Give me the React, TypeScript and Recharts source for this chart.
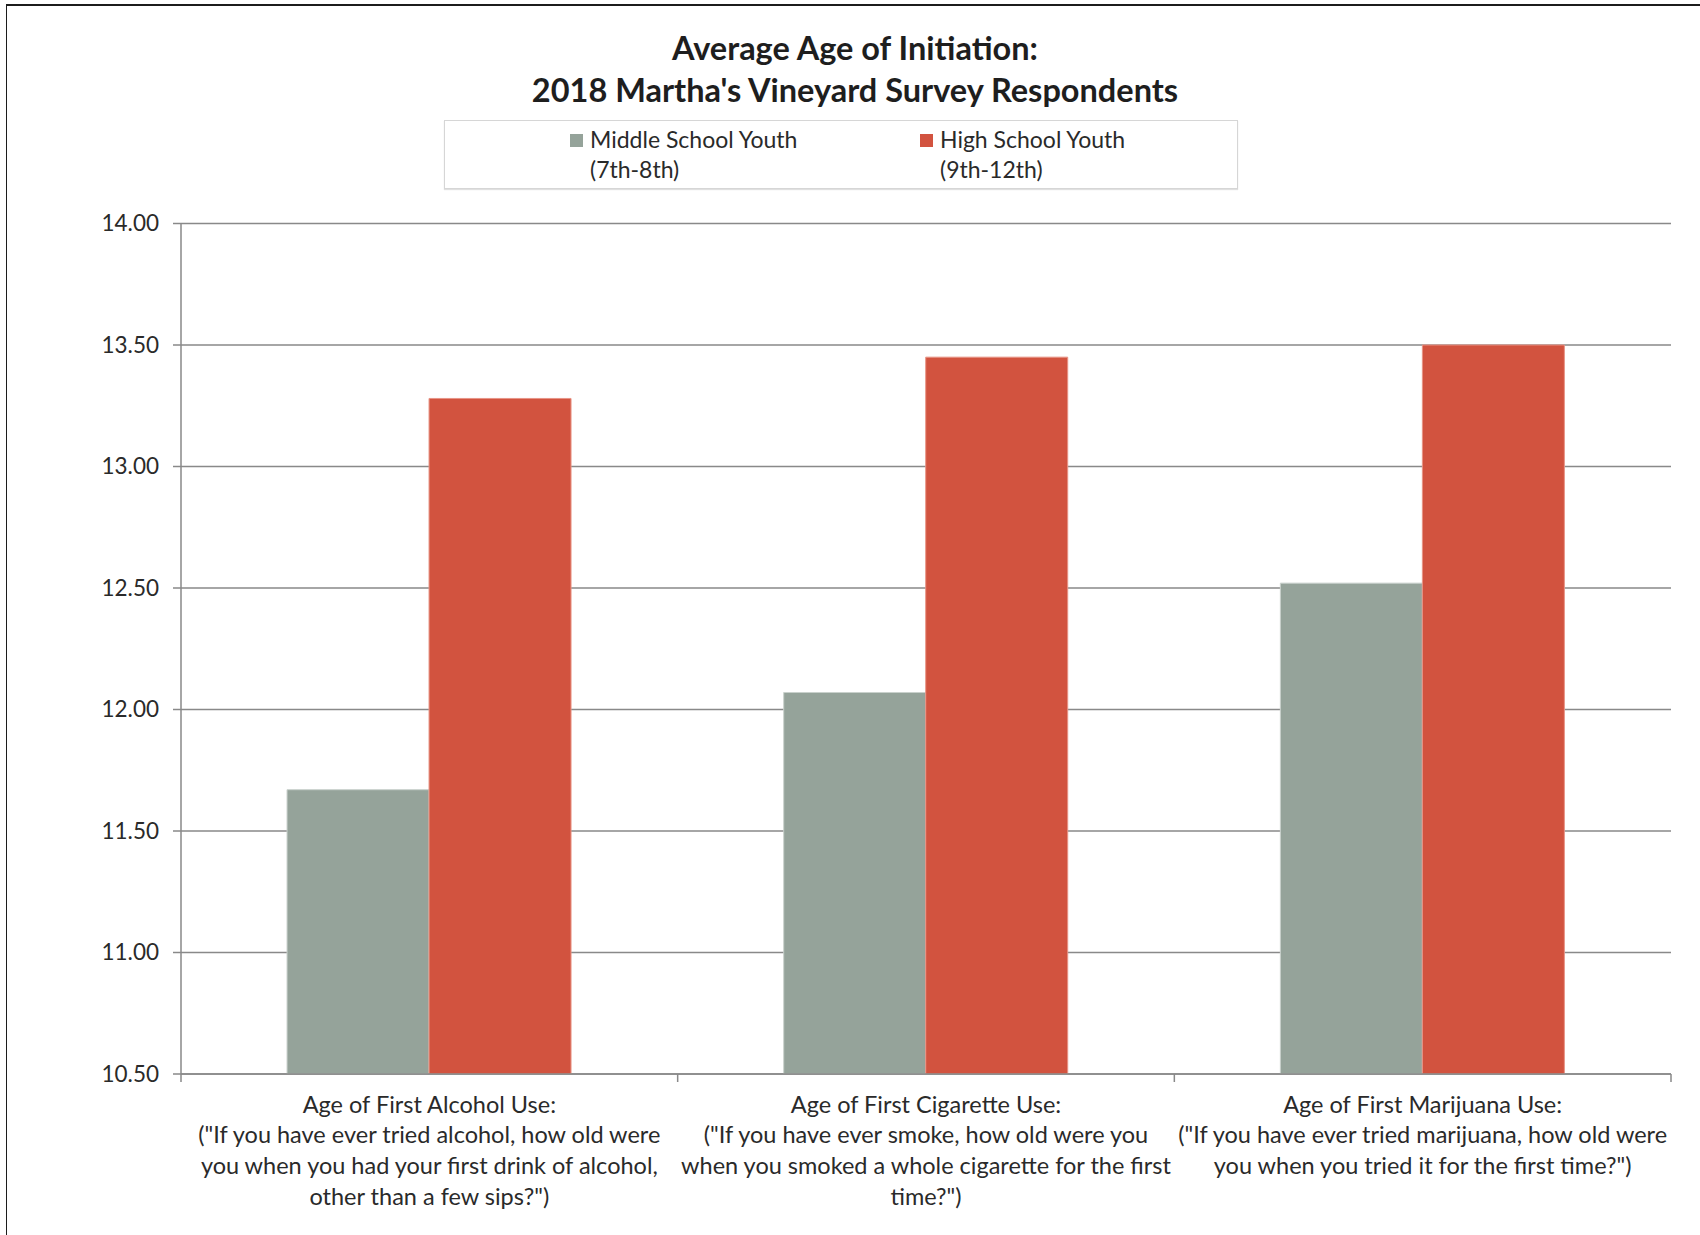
import { BarChart, Bar, XAxis, YAxis, CartesianGrid } from "recharts"

const categories = ["Alcohol", "Cigarette", "Marijuana"]
const categoryLabels = [
  ["Age of First Alcohol Use:", "(\"If you have ever tried alcohol, how old were", "you when you had your first drink of alcohol,", "other than a few sips?\")"],
  ["Age of First Cigarette Use:", "(\"If you have ever smoke, how old were you", "when you smoked a whole cigarette for the first", "time?\")"],
  ["Age of First Marijuana Use:", "(\"If you have ever tried marijuana, how old were", "you when you tried it for the first time?\")"],
]
const middleSchool = [11.67, 12.07, 12.52]
const highSchool = [13.28, 13.45, 13.5]
const yTicks = [10.5, 11, 11.5, 12, 12.5, 13, 13.5, 14]

const series = [
  { key: "middle", name: "Middle School Youth", sub: "(7th-8th)", color: "#95a39a", edge: "#c9d1cc" },
  { key: "high", name: "High School Youth", sub: "(9th-12th)", color: "#d2533f", edge: "#e89486" },
]

const data = categories.map((name, i) => ({ name, middle: middleSchool[i], high: highSchool[i] }))

const W = 1700
const H = 1235
const M = { top: 223.5, right: 29, bottom: 0, left: 0 }
const Y_AXIS_W = 181
const BAND = (W - M.left - M.right - Y_AXIS_W) / categories.length
const FONT = "Lato, 'Open Sans', sans-serif"
const TEXT = "#2a2a2a"
const LINE = "#898989"

function CategoryTick(props: any) {
  const { x, y, payload } = props
  const idx = payload.index
  const lines = categoryLabels[idx] || []
  const left = x - BAND / 2
  return (
    <g>
      <line x1={left} x2={left} y1={y} y2={y + 8} stroke={LINE} strokeWidth={1.5} />
      {idx === categories.length - 1 && (
        <line x1={x + BAND / 2} x2={x + BAND / 2} y1={y} y2={y + 8} stroke={LINE} strokeWidth={1.5} />
      )}
      <text textAnchor="middle" fontFamily={FONT} fontSize={23.5} fill={TEXT}>
        {lines.map((l, i) => (
          <tspan key={i} x={x} y={y + 38.5 + i * 30.7}>{l}</tspan>
        ))}
      </text>
    </g>
  )
}

export default function App() {
  return (
    <div style={{ position: "absolute", top: 0, left: 0, width: W, height: H, background: "#fff", fontFamily: FONT }}>
      <div style={{ position: "absolute", top: 4, left: 6, right: 0, bottom: 0, borderTop: "2.5px solid #1c1c1c", borderLeft: "1.5px solid #1c1c1c" }} />

      <div style={{ position: "absolute", top: 27, left: 0, width: 1710, textAlign: "center", fontSize: 32.5, fontWeight: 700, lineHeight: "42px", color: "#1e1e1e" }}>
        <div>Average Age of Initiation:</div>
        <div>2018 Martha's Vineyard Survey Respondents</div>
      </div>

      <div style={{ position: "absolute", left: 444, top: 120, width: 794, height: 69, border: "1px solid #d6d6d6", boxShadow: "0 1px 1px rgba(0,0,0,0.12)", boxSizing: "border-box" }}>
        {series.map((s, i) => (
          <div key={s.key} style={{ position: "absolute", left: i === 0 ? 125 : 475, top: 3 }}>
            <div style={{ position: "absolute", left: 0, top: 9.5, width: 13, height: 13, background: s.color }} />
            <div style={{ marginLeft: 20, fontSize: 23, lineHeight: "30px", color: TEXT, whiteSpace: "nowrap" }}>
              <div>{s.name}</div>
              <div>{s.sub}</div>
            </div>
          </div>
        ))}
      </div>

      <div style={{ position: "absolute", top: 0, left: 0 }}>
        <BarChart width={W} height={H} data={data} margin={M} barCategoryGap="21.35%" barGap={0}>
          <CartesianGrid vertical={false} stroke={LINE} strokeWidth={1.5} />
          <XAxis
            dataKey="name"
            height={161}
            interval={0}
            tickSize={0}
            tickMargin={0}
            axisLine={{ stroke: LINE, strokeWidth: 1.5 }}
            tickLine={false}
            tick={<CategoryTick />}
          />
          <YAxis
            width={Y_AXIS_W}
            domain={[10.5, 14]}
            ticks={yTicks}
            allowDataOverflow
            tickFormatter={(v: number) => v.toFixed(2)}
            tickSize={8}
            tickMargin={14}
            axisLine={{ stroke: LINE, strokeWidth: 1.5 }}
            tickLine={{ stroke: LINE, strokeWidth: 1.5 }}
            tick={{ fontFamily: FONT, fontSize: 22.5, fill: TEXT }}
          />
          {series.map(s => (
            <Bar key={s.key} dataKey={s.key} name={s.name} fill={s.color} stroke={s.edge} strokeWidth={1} isAnimationActive={false} />
          ))}
        </BarChart>
      </div>
    </div>
  )
}
